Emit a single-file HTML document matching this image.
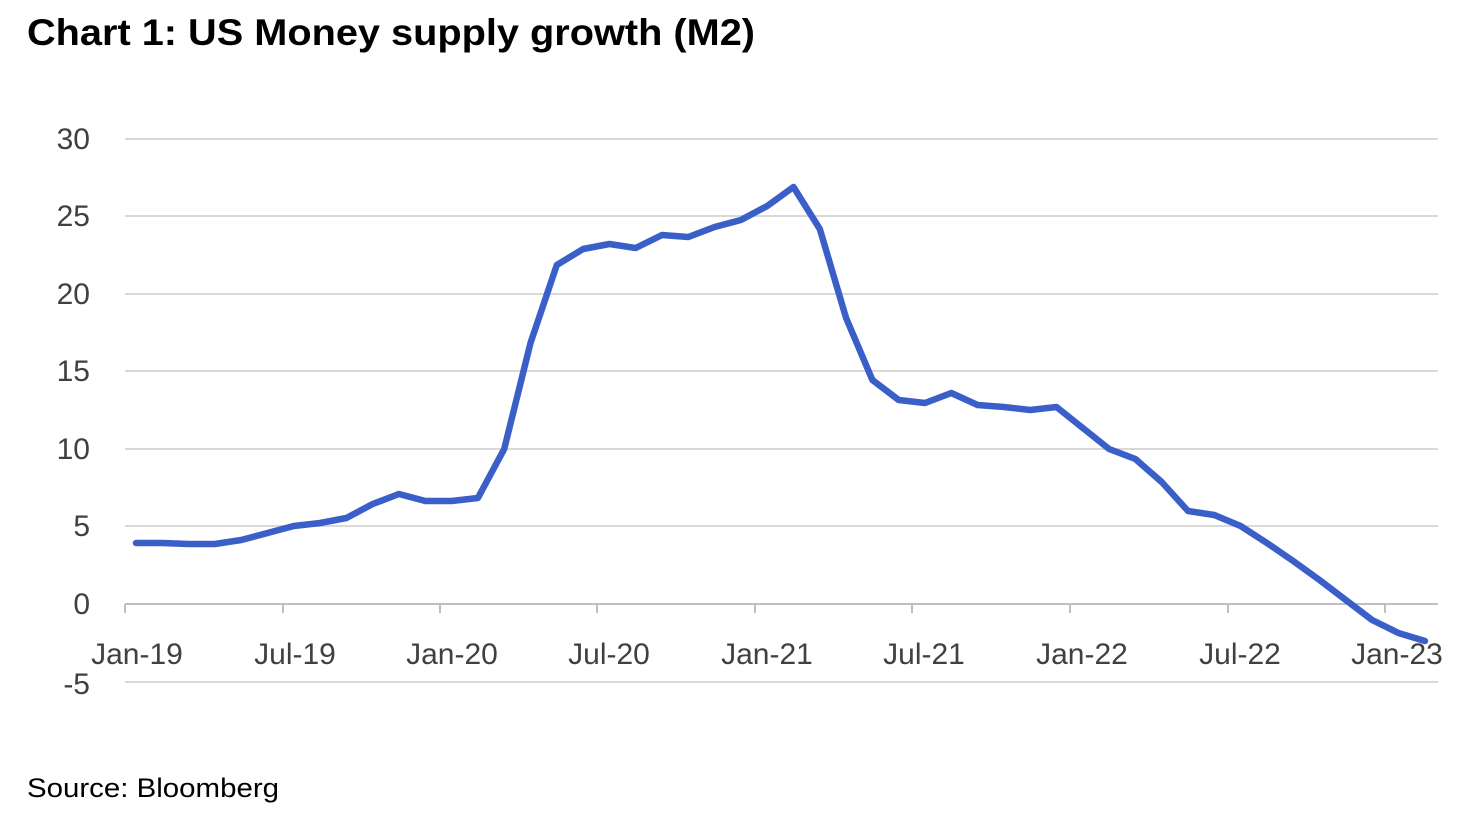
<!DOCTYPE html>
<html><head><meta charset="utf-8"><style>
html,body{margin:0;padding:0;background:#fff;}
svg{display:block;font-family:"Liberation Sans",Arial,sans-serif;}
</style></head><body>
<svg width="1478" height="838" viewBox="0 0 1478 838" xmlns="http://www.w3.org/2000/svg">
<text x="27" y="45" font-size="37" font-weight="bold" fill="#000" textLength="728" lengthAdjust="spacingAndGlyphs">Chart 1: US Money supply growth (M2)</text>
<g stroke="#d9d9d9" stroke-width="2">
<line x1="125" y1="139" x2="1438" y2="139"/>
<line x1="125" y1="216" x2="1438" y2="216"/>
<line x1="125" y1="294" x2="1438" y2="294"/>
<line x1="125" y1="371" x2="1438" y2="371"/>
<line x1="125" y1="449" x2="1438" y2="449"/>
<line x1="125" y1="526" x2="1438" y2="526"/>
<line x1="125" y1="682" x2="1438" y2="682"/>
</g>
<g stroke="#bfbfbf" stroke-width="2">
<line x1="125" y1="604" x2="1438" y2="604"/>
<line x1="125" y1="604" x2="125" y2="613"/>
<line x1="283" y1="604" x2="283" y2="613"/>
<line x1="440" y1="604" x2="440" y2="613"/>
<line x1="597" y1="604" x2="597" y2="613"/>
<line x1="755" y1="604" x2="755" y2="613"/>
<line x1="912" y1="604" x2="912" y2="613"/>
<line x1="1070" y1="604" x2="1070" y2="613"/>
<line x1="1228" y1="604" x2="1228" y2="613"/>
<line x1="1385" y1="604" x2="1385" y2="613"/>
</g>
<g font-size="30" fill="#404040" text-anchor="end">
<text x="90" y="149">30</text>
<text x="90" y="226">25</text>
<text x="90" y="304">20</text>
<text x="90" y="381">15</text>
<text x="90" y="459">10</text>
<text x="90" y="536">5</text>
<text x="90" y="614">0</text>
<text x="90" y="694">-5</text>
</g>
<g font-size="30" fill="#404040" text-anchor="middle">
<text x="137" y="664">Jan-19</text>
<text x="295" y="664">Jul-19</text>
<text x="452" y="664">Jan-20</text>
<text x="609" y="664">Jul-20</text>
<text x="767" y="664">Jan-21</text>
<text x="924" y="664">Jul-21</text>
<text x="1082" y="664">Jan-22</text>
<text x="1240" y="664">Jul-22</text>
<text x="1397" y="664">Jan-23</text>
</g>
<polyline fill="none" stroke="#3a5fc8" stroke-width="6.5" stroke-linejoin="round" stroke-linecap="round" points="
136,543 162.3,543 188.6,544 214.9,544 241.2,540 267.5,533 293.8,526 320.1,523 346.4,518 372.7,504 399,494 425.3,501 451.6,501 477.9,498 504.2,449 530.5,343 556.8,265 583.1,249 609.4,244 635.7,248 662,235 688.3,237 714.6,227 740.9,220 767.2,206 793.5,187 819.8,229 846.1,318 872.4,380 898.7,400 925,403 951.3,393 977.6,405 1003.9,407 1030.2,410 1056.5,407 1082.8,428 1109.1,449 1135.4,459 1161.7,482 1188,511 1214.3,515 1240.6,526 1266.9,543 1293.2,561 1319.5,580 1345.8,600 1372.1,620 1398.4,633 1425,641"/>
<text x="27" y="797" font-size="27" fill="#000" textLength="252" lengthAdjust="spacingAndGlyphs">Source: Bloomberg</text>
</svg>
</body></html>
